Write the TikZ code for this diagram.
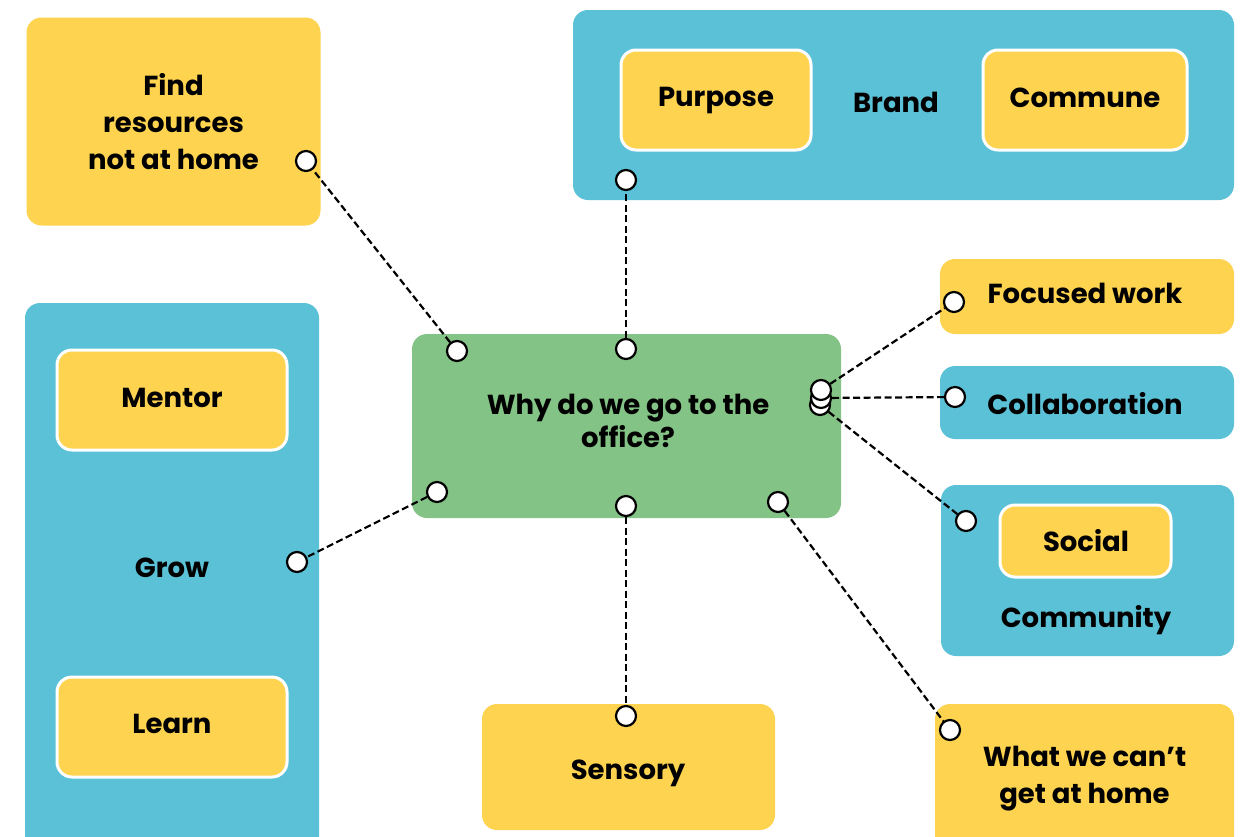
\documentclass[tikz,border=0pt]{standalone}
\usepackage{fontspec}
\setmainfont{Poppins}
\definecolor{cyel}{HTML}{FDD34F}
\definecolor{cblu}{HTML}{5BC1D6}
\definecolor{cgrn}{HTML}{84C386}
\begin{document}
\begin{tikzpicture}[x=1pt,y=-1pt,
  box/.style={rounded corners=15pt,inner sep=0pt,align=center,font=\fontsize{27.5}{37}\selectfont\bfseries},
  ybox/.style={box,fill=cyel},
  bbox/.style={box,fill=cblu},
  ibox/.style={box,fill=cyel,draw=white,line width=3pt},
  lbl/.style={font=\fontsize{27.5}{37}\selectfont\bfseries,inner sep=0pt,text height=20pt,text depth=0pt},
  dot/.style={circle,draw=black,fill=white,line width=2.2pt,minimum size=20pt,inner sep=0pt},
  link/.style={draw=black,line width=2.2pt,dash pattern=on 7pt off 3.5pt}]
\useasboundingbox (0,0) rectangle (1243,836);
% boxes
\node[ybox,minimum width=294pt,minimum height=208pt] (find) at (173.5,121.5) {Find\\resources\\not at home};
\node[bbox,minimum width=661pt,minimum height=190pt] (brand) at (903.5,105) {};
\node[ibox,minimum width=190pt,minimum height=100pt] (purpose) at (716,100) {};
\node[ibox,minimum width=204pt,minimum height=100pt] (commune) at (1085,100) {};
\node[ybox,minimum width=294pt,minimum height=75pt] (focus) at (1087,296.5) {};
\node[bbox,minimum width=294pt,minimum height=73pt] (collab) at (1087,402.5) {};
\node[bbox,minimum width=293pt,minimum height=171pt] (comm) at (1087.5,570.5) {};
\node[ibox,minimum width=171pt,minimum height=72pt] (social) at (1085.5,541) {};
\node[ybox,minimum width=299pt,minimum height=150pt] (home) at (1084.5,779) {\raisebox{1pt}{\parbox{290pt}{\centering\fontsize{27.5}{37}\selectfont\bfseries What we can’t\\get at home}}};
\node[ybox,minimum width=293pt,minimum height=126pt] (sensory) at (628.5,767) {};
\node[bbox,minimum width=294pt,minimum height=560pt] (grow) at (172,583) {};
\node[ibox,minimum width=230pt,minimum height=100pt] (mentor) at (172,400) {};
\node[ibox,minimum width=230pt,minimum height=100pt] (learn) at (172,727) {};
\node[box,fill=cgrn,minimum width=429pt,minimum height=184pt] (center) at (626.5,426) {};
% labels
\node[lbl] (purposel) at (716,96.5) {Purpose};
\node[lbl] (communel) at (1085,97) {Commune};
\node[lbl] (brandl) at (896,102) {Brand};
\node[lbl] (focusl) at (1085,293) {Focused work};
\node[lbl] (collabl) at (1085,404) {Collaboration};
\node[lbl] (sociall) at (1086,541) {Social};
\node[lbl] (comml) at (1086,617) {Community};
\node[lbl] (sensoryl) at (628,769.5) {Sensory};
\node[lbl] (mentorl) at (172,397) {Mentor};
\node[lbl] (learnl) at (172,723) {Learn};
\node[lbl] (growl) at (172,567) {Grow};
\node[lbl,align=center,font=\fontsize{27.5}{33}\selectfont\bfseries,text height=,text depth=] (centerl) at (628,421) {Why do we go to the\\office?};
% dots
\node[dot] (d1) at (306,161) {};
\node[dot] (c1) at (457,351) {};
\node[dot] (d2) at (626,180) {};
\node[dot] (c2) at (626,349) {};
\node[dot] (d3) at (297,562) {};
\node[dot] (c3) at (437,492) {};
\node[dot] (d4) at (626,716) {};
\node[dot] (c4) at (626,506) {};
\node[dot] (d5) at (950,730) {};
\node[dot] (c5) at (778,502) {};
\node[dot] (c8) at (820,405) {};
\node[dot] (c7) at (821,398) {};
\node[dot] (c6) at (821,390) {};
\node[dot] (d6) at (954,302) {};
\node[dot] (d7) at (955,397) {};
\node[dot] (d8) at (966,521) {};
% links
\draw[link] (c1) -- (d1);
\draw[link] (c2) -- (d2);
\draw[link] (c3) -- (d3);
\draw[link] (c4) -- (d4);
\draw[link] (c5) -- (d5);
\draw[link] (c6) -- (d6);
\draw[link] (c7) -- (d7);
\draw[link] (c8) -- (d8);
\end{tikzpicture}
\end{document}
